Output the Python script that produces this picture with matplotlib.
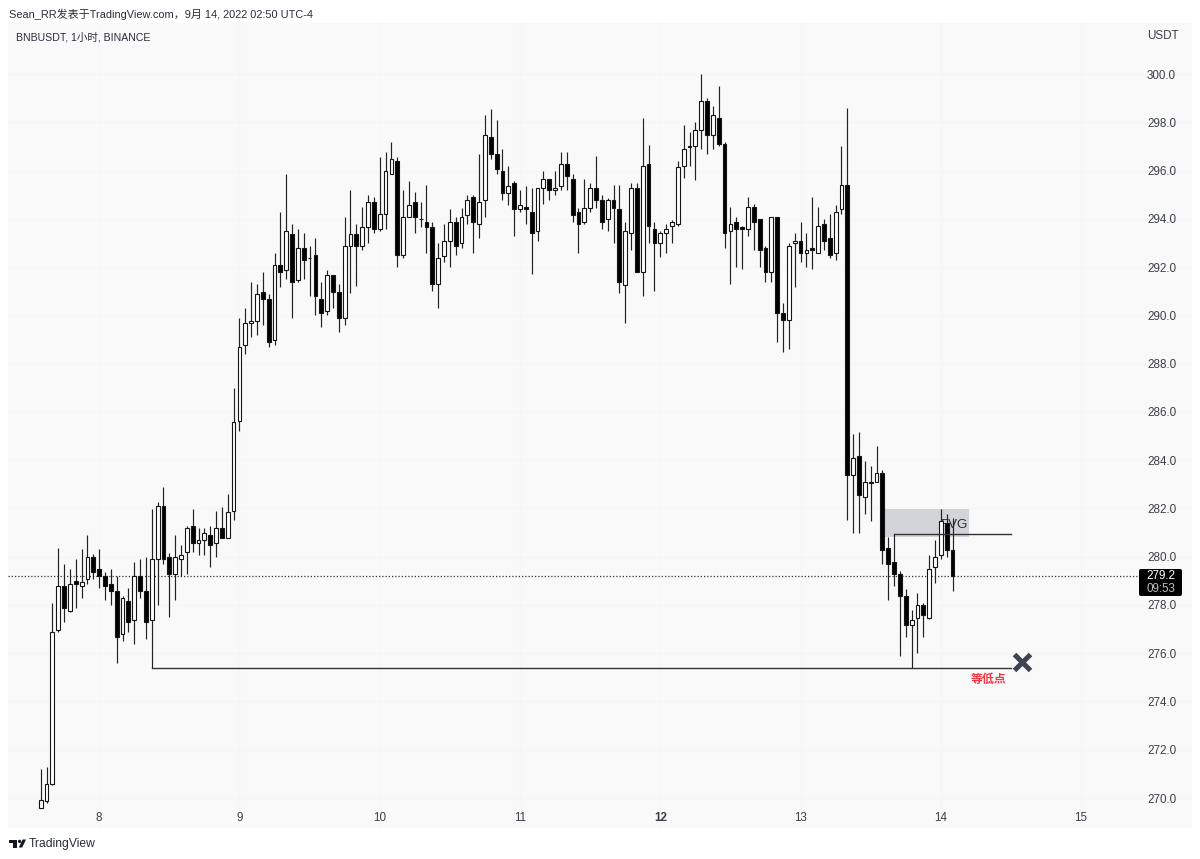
import numpy as np
import matplotlib
matplotlib.use("Agg")
import matplotlib.pyplot as plt
from matplotlib.patches import Rectangle, Polygon, Circle, FancyBboxPatch
from matplotlib.transforms import blended_transform_factory

#########################################################
# hourly candles BNBUSDT
#########################################################
opens = [
    269.60, 269.89, 270.58, 276.96, 278.77, 277.75, 278.98, 278.77, 279.09, 279.97,
    279.49, 279.19, 278.88, 278.58, 276.78, 278.18, 277.38, 279.19, 278.58, 277.38,
    279.89, 282.09, 279.97, 279.28, 279.89, 280.18, 281.27, 280.58, 280.68, 280.88,
    280.58, 281.17, 280.77, 281.89, 285.62, 288.77, 289.67, 289.78, 290.98, 290.69,
    288.98, 292.09, 291.88, 293.38, 291.48, 292.79, 292.39, 292.49, 290.69, 290.19,
    291.69, 290.99, 289.88, 292.89, 293.38, 292.89, 293.67, 294.68, 293.58, 294.19,
    295.88, 296.38, 292.49, 294.07, 294.68, 294.00, 293.88, 293.67, 291.29, 292.48,
    293.08, 293.88, 292.98, 294.18, 294.89, 293.78, 294.80, 297.39, 296.68, 295.99,
    295.08, 295.48, 294.39, 294.49, 294.28, 293.49, 295.29, 295.66, 295.18, 295.38,
    296.28, 295.67, 294.28, 293.88, 294.47, 295.27, 294.79, 294.00, 294.79, 294.39,
    291.28, 293.40, 295.27, 291.79, 296.28, 293.59, 292.98, 293.40, 293.69, 293.79,
    296.19, 297.00, 297.01, 297.68, 298.89, 297.49, 298.18, 297.09, 293.49, 293.89,
    293.68, 293.60, 294.49, 293.99, 292.79, 291.80, 294.09, 290.09, 289.80, 292.99,
    293.08, 292.59, 292.79, 292.59, 293.79, 293.19, 292.60, 294.40, 295.39, 283.38,
    284.17, 282.48, 283.09, 283.09, 283.48, 280.38, 279.79, 279.28, 278.38, 277.19,
    277.48, 277.98, 277.47, 279.58, 280.08, 281.38, 280.29,
]
highs = [
    271.20, 271.27, 278.07, 280.37, 279.68, 279.49, 279.89, 280.30, 280.90, 280.10,
    280.30, 279.38, 279.49, 279.19, 278.38, 278.69, 279.78, 279.89, 279.97, 281.96,
    282.28, 282.87, 280.17, 280.88, 280.48, 281.27, 281.96, 281.17, 281.17, 281.27,
    281.88, 282.07, 282.58, 287.00, 289.88, 290.29, 291.40, 291.30, 291.78, 290.88,
    292.60, 294.30, 295.88, 293.78, 293.59, 293.40, 292.89, 293.19, 291.38, 291.88,
    291.69, 291.29, 294.09, 295.19, 293.78, 294.48, 294.99, 294.89, 296.58, 296.78,
    297.20, 296.58, 295.19, 295.58, 295.10, 294.68, 295.39, 293.88, 292.98, 293.78,
    294.39, 294.09, 294.47, 295.00, 295.00, 296.68, 298.30, 298.57, 298.09, 296.88,
    296.19, 295.59, 295.19, 295.38, 295.29, 295.29, 296.00, 295.66, 295.99, 296.78,
    296.78, 295.88, 294.47, 295.66, 295.47, 296.60, 294.98, 294.87, 295.40, 295.40,
    293.88, 295.47, 295.47, 298.19, 297.08, 293.88, 293.49, 293.79, 293.95, 296.41,
    297.89, 297.60, 298.00, 300.00, 299.00, 298.69, 299.49, 297.20, 294.49, 294.08,
    293.70, 294.89, 294.60, 293.99, 292.88, 294.09, 294.09, 290.50, 292.99, 293.40,
    293.89, 293.40, 294.91, 294.49, 293.99, 294.20, 294.59, 297.00, 298.58, 285.08,
    285.16, 283.97, 283.77, 284.57, 283.59, 280.80, 280.96, 279.40, 278.68, 277.79,
    278.48, 278.09, 280.09, 280.69, 281.97, 281.79, 281.59,
]
lows = [
    269.60, 269.78, 270.54, 276.89, 277.29, 277.71, 277.89, 278.27, 278.88, 279.09,
    278.69, 278.19, 277.98, 275.61, 276.49, 276.89, 276.40, 278.29, 276.59, 275.39,
    277.98, 279.70, 277.50, 278.19, 279.19, 279.28, 280.18, 280.08, 280.08, 279.59,
    279.99, 280.77, 280.77, 281.52, 285.22, 288.40, 289.09, 289.20, 289.60, 288.70,
    288.77, 291.19, 291.49, 289.88, 291.40, 291.49, 290.80, 290.01, 289.50, 290.00,
    290.29, 289.31, 289.59, 290.91, 291.22, 292.71, 292.98, 293.40, 293.48, 293.59,
    295.88, 292.02, 292.38, 294.06, 293.40, 293.67, 292.60, 291.01, 290.29, 292.21,
    292.01, 292.50, 292.80, 293.78, 292.59, 293.19, 294.09, 296.49, 295.88, 294.79,
    294.58, 293.28, 294.29, 293.78, 291.71, 293.09, 294.60, 294.79, 294.98, 295.19,
    295.19, 293.88, 292.59, 293.78, 294.29, 294.47, 293.59, 293.49, 292.98, 290.91,
    289.69, 292.70, 291.79, 290.80, 292.98, 291.00, 292.41, 292.60, 293.02, 293.71,
    295.71, 296.19, 295.61, 296.91, 296.70, 296.91, 297.00, 292.81, 291.30, 292.02,
    291.91, 293.30, 292.70, 292.01, 291.40, 291.40, 288.90, 288.50, 288.60, 291.19,
    292.20, 292.00, 291.91, 292.57, 292.70, 292.39, 292.30, 294.20, 281.52, 280.99,
    280.99, 281.79, 281.49, 283.09, 279.69, 278.19, 278.78, 275.89, 276.68, 275.37,
    276.00, 276.68, 277.40, 278.89, 279.89, 280.00, 278.57,
]
closes = [
    269.90, 270.58, 276.86, 278.77, 277.89, 278.88, 278.88, 278.96, 279.97, 279.38,
    279.19, 278.77, 278.58, 276.69, 278.29, 277.28, 279.19, 278.58, 277.28, 279.89,
    282.09, 279.89, 279.28, 279.97, 280.08, 281.17, 280.58, 280.68, 280.98, 280.48,
    281.17, 280.77, 281.86, 285.59, 288.68, 289.67, 289.78, 290.88, 290.69, 288.88,
    292.09, 291.78, 293.48, 291.40, 292.79, 292.29, 292.38, 290.80, 290.08, 291.69,
    290.99, 289.89, 292.89, 293.38, 292.89, 293.67, 294.68, 293.59, 294.19, 295.98,
    296.48, 292.49, 294.07, 294.59, 294.07, 293.99, 293.67, 291.29, 292.39, 293.08,
    293.88, 292.88, 294.09, 294.79, 293.88, 294.68, 297.48, 296.68, 296.07, 295.08,
    295.38, 294.39, 294.58, 294.39, 293.40, 295.27, 295.66, 295.19, 295.27, 296.28,
    295.78, 294.18, 293.78, 294.47, 295.27, 294.79, 293.88, 294.79, 294.47, 291.39,
    293.48, 295.27, 291.79, 296.18, 293.69, 292.98, 293.40, 293.60, 293.89, 296.16,
    296.88, 296.98, 297.67, 298.87, 297.49, 298.29, 297.09, 293.40, 293.79, 293.60,
    293.60, 294.49, 293.89, 292.70, 291.80, 294.09, 290.09, 289.80, 292.88, 293.10,
    292.59, 292.70, 292.70, 293.69, 293.09, 292.49, 294.27, 295.39, 283.38, 284.07,
    282.57, 283.08, 283.07, 283.48, 280.29, 279.69, 279.28, 278.38, 277.17, 277.37,
    277.98, 277.58, 279.48, 279.98, 281.47, 280.29, 279.18,
]

day_index = [10, 34, 58, 82, 106, 130, 154, 178]
day_labels = ["8", "9", "10", "11", "12", "13", "14", "15"]
price_ticks = np.arange(270, 301, 2)

last_price = 279.2
equal_low = 275.39
equal_low_start = 19
fvg_top = 281.97
fvg_bottom = 280.80
fvg_left = 144.4
fvg_right = 158.8
fvg_line = 280.96
fvg_line_start = 146
line_end = 166

FONT = ["Liberation Sans", "Noto Sans CJK SC"]
plt.rcParams["font.family"] = FONT

o = np.array(opens)
h = np.array(highs)
l = np.array(lows)
c = np.array(closes)
idx = np.arange(len(o))

#########################################################
# Chart panel
#########################################################
fig = plt.figure(figsize=(12, 8.59), dpi=100, facecolor="white")

# page level layer in pixels, for the header and the logo
page = fig.add_axes([0, 0, 1, 1], zorder=0)
page.set_xlim(0, 1200)
page.set_ylim(859, 0)
page.axis("off")

ax = fig.add_axes([8/1200, 1-828/859, 1184/1200, 805/859], zorder=1)
ax.set_facecolor("#f9f9f9")
ax.set_xlim(-5.595, 196.97)
ax.set_ylim(268.757, 302.118)
for s in ax.spines.values():
    s.set_visible(False)
ax.set_axisbelow(True)
ax.grid(True, color="#f6f6f7", lw=0.8)

ax.yaxis.tick_right()
ax.set_yticks(price_ticks)
ax.set_yticklabels(["%.1f" % p for p in price_ticks])
ax.tick_params(axis="y", length=0, pad=-32.4, labelsize=8.4, labelcolor="#3c3f48")
ax.set_xticks(day_index)
ax.set_xticklabels(day_labels)
ax.tick_params(axis="x", length=0, pad=-11.5, labelsize=8.4, labelcolor="#3c3f48")
for lab in ax.get_xticklabels():
    if lab.get_text() == "12":
        lab.set_fontweight("bold")

#########################################################
# FVG zone, candles and the drawn levels
#########################################################
ax.add_patch(Rectangle((fvg_left, fvg_bottom), fvg_right-fvg_left, fvg_top-fvg_bottom,
                       facecolor="#d3d4d9", edgecolor="none", zorder=1))
ax.text(156.4, 281.3, "FVG", ha="center", va="center", fontsize=9.6, color="#2a2e39", zorder=1.5)

ax.vlines(idx, l, h, color="#222222", lw=0.85, zorder=2)
colors = ["white" if cc >= oo else "black" for oo, cc in zip(o, c)]
ax.bar(idx, np.abs(c-o), bottom=np.minimum(o, c), width=0.65, color=colors,
       edgecolor="#151515", linewidth=0.8, zorder=3)

trans = blended_transform_factory(ax.transAxes, ax.transData)
ax.plot([0, 0.9557], [last_price, last_price], transform=trans, color="#333333",
        lw=0.9, ls=(0, (1, 1.6)), zorder=1.8)

ax.plot([equal_low_start, line_end], [equal_low, equal_low], color="#333333", lw=1.0, zorder=4)
ax.plot([fvg_line_start, line_end], [fvg_line, fvg_line], color="#333333", lw=1.0, zorder=4)
ax.plot(167.97, 275.64, marker="x", ms=11, mew=3.6, color="#3d4452", zorder=5)
ax.text(162.1, 274.89, "等低点", ha="center", va="center", fontsize=8.6, color="#f23645",
        fontweight="bold", zorder=5)

# last price tag on the scale
ax.add_patch(FancyBboxPatch((1140.5, 570.5), 40, 24, boxstyle="round,pad=1.5,rounding_size=2",
                            transform=page.transData, facecolor="black", edgecolor="none", zorder=6))
ax.text(0.9618, 279.2, "279.2", transform=trans, ha="left", va="center", fontsize=8.4,
        color="white", zorder=7)
ax.text(0.9618, 278.68, "09:53", transform=trans, ha="left", va="center", fontsize=8.4,
        color="#bdbdbd", zorder=7)

#########################################################
# Header, symbol line and logo
#########################################################
page.text(9, 14, "Sean_RR发表于TradingView.com，9月 14, 2022 02:50 UTC-4", ha="left", va="center",
          fontsize=7.9, color="#2a2e39")
ax.text(16, 37, "BNBUSDT, 1小时, BINANCE", ha="left", va="center", fontsize=7.6, color="#2a2e39",
        transform=page.transData, zorder=8)
ax.text(1147, 36, "USDT", ha="left", va="center", fontsize=8.4, color="#3c3f48",
        transform=page.transData, zorder=8)

page.add_patch(Polygon([(9, 839.5), (17, 839.5), (17, 847.5), (13, 847.5), (13, 843), (9, 843)],
                       facecolor="#131722", edgecolor="none"))
page.add_patch(Circle((19.6, 841.4), 1.7, facecolor="#131722", edgecolor="none"))
page.add_patch(Polygon([(22.6, 839.5), (26, 839.5), (22.2, 847.5), (18.8, 847.5)],
                       facecolor="#131722", edgecolor="none"))
page.text(29, 844, "TradingView", ha="left", va="center", fontsize=8.7, color="#2a2e39")

fig.savefig("out.png", dpi=100, facecolor="white")
